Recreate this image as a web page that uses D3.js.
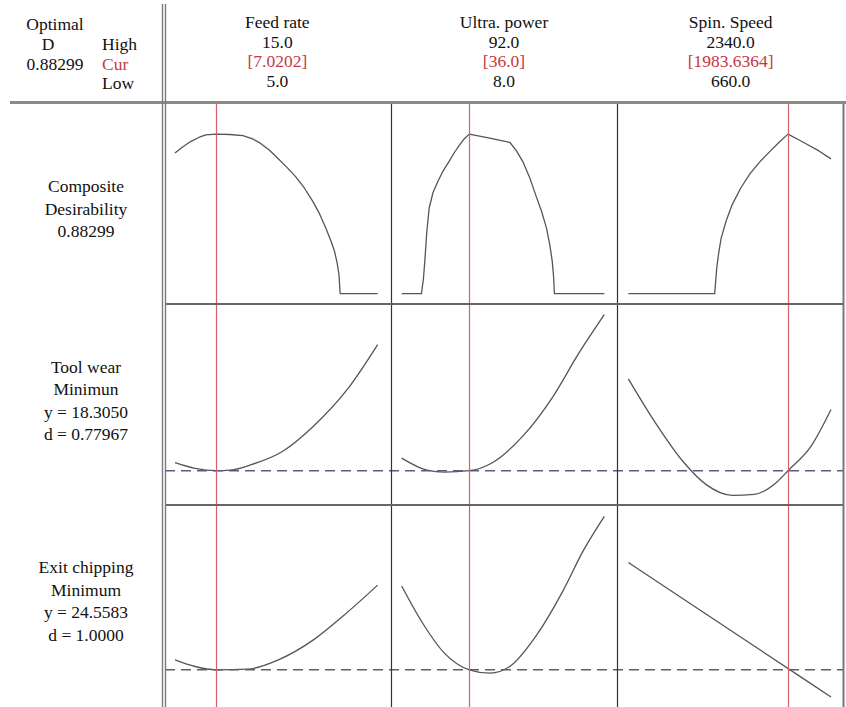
<!DOCTYPE html>
<html><head><meta charset="utf-8">
<script src="https://cdn.jsdelivr.net/npm/d3@7"></script>
<style>
html,body{margin:0;padding:0;background:#fff;}
svg{display:block;}
</style>
</head><body><div id="chart"></div>
<script>
// ---------- data ----------
const factorNames = ["Feed rate", "Ultra. power", "Spin. Speed"];
const factorHigh = [15.0, 92.0, 2340.0];
const factorLow = [5.0, 8.0, 660.0];
const factorCur = [7.0202, 36.0, 1983.6364];
const highLabels = ["15.0", "92.0", "2340.0"];
const lowLabels = ["5.0", "8.0", "660.0"];
const curLabels = ["[7.0202]", "[36.0]", "[1983.6364]"];
const optimalLabels = ["Optimal", "D", "0.88299"];
const levelLabels = ["High", "Cur", "Low"];
const responseLabels = [
  ["Composite", "Desirability", "0.88299"],
  ["Tool wear", "Minimun", "y = 18.3050", "d = 0.77967"],
  ["Exit chipping", "Minimum", "y = 24.5583", "d = 1.0000"]
];
const responseTargets = [null, 18.3050, 24.5583];

// composite desirability vs each factor
const desirFeed = [[5.0,0.778],[5.34,0.809],[5.77,0.842],[6.2,0.866],[6.52,0.879],[7.02,0.883],[7.7,0.881],[8.35,0.875],[8.8,0.858],[9.21,0.833],[9.65,0.795],[10.07,0.750],[10.5,0.702],[10.94,0.649],[11.38,0.585],[11.80,0.511],[12.14,0.44],[12.44,0.364],[12.7,0.29],[12.87,0.235],[13.0,0.17],[13.09,0.106],[13.15,0],[15.0,0]];
const desirPower = [[8,0],[16.2,0],[17.0,0.08],[17.6,0.180],[18.4,0.34],[19.4,0.474],[21.0,0.56],[23.0,0.621],[25.2,0.68],[27.6,0.731],[29.8,0.78],[32.0,0.824],[34.0,0.858],[36.0,0.883],[44.0,0.862],[52.8,0.838],[55.6,0.79],[58.2,0.731],[61.0,0.645],[63.5,0.548],[66.0,0.455],[68.0,0.364],[69.4,0.27],[70.4,0.180],[71.0,0.09],[71.3,0],[92,0]];
const desirSpeed = [[660,0],[1376,0],[1384,0.07],[1393,0.143],[1410,0.23],[1430,0.309],[1472,0.405],[1521,0.493],[1592,0.585],[1666,0.662],[1748,0.728],[1830,0.785],[1910,0.838],[1983.6,0.883],[2060,0.856],[2140,0.827],[2240,0.79],[2340,0.746]];

// tool wear vs each factor
const wearFeed = [[5.0,19.45],[5.99,18.63],[7.02,18.305],[7.72,18.39],[8.80,19.21],[10.32,21.1],[11.83,24.68],[13.56,30.16],[15.0,36.35]];
const wearPower = [[8,20.11],[18.5,18.39],[25.7,18.11],[36,18.305],[45.6,19.45],[58.2,23.25],[70.8,28.96],[81.5,35.16],[92,40.64]];
const wearSpeed = [[660,31.45],[867,25.63],[1122,19.45],[1303,16.35],[1522,14.78],[1703,14.92],[1885,16.59],[1983.6,18.305],[2175,21.82],[2340,27.06]];

// exit chipping vs each factor
const chipFeed = [[5.0,26.22],[5.99,25.11],[7.02,24.56],[8.58,24.67],[10.10,26.22],[11.83,29.56],[13.35,33.72],[15.0,38.72]];
const chipPower = [[8,38.56],[16.7,32.34],[25.7,27.34],[36,24.56],[44.6,24.0],[52.8,25.11],[63.5,30.11],[74.3,37.34],[83.4,44.56],[92,50.22]];
const chipSpeed = [[660,42.51],[1500,31.26],[2340,20.01]];

const curves = [
  [desirFeed, desirPower, desirSpeed],
  [wearFeed, wearPower, wearSpeed],
  [chipFeed, chipPower, chipSpeed]
];

// ---------- layout ----------
const W = 846, H = 707;
const FONT = "'Liberation Serif'";
const svg = d3.select("#chart").append("svg").attr("width", W).attr("height", H);
svg.append("rect").attr("width", W).attr("height", H).attr("fill", "#fff");

const colBand = d3.scaleBand().domain([0,1,2]).range([164, 844]);
const rowBand = d3.scaleBand().domain([0,1,2]).range([102, 707]);
const bw = colBand.bandwidth(), bh = rowBand.bandwidth();

const xScales = factorNames.map((_, i) =>
  d3.scaleLinear().domain([factorLow[i], factorHigh[i]]).range([colBand(i) + 11, colBand(i) + bw - 13]));

const yScales = curves.map((row, r) => {
  const dom = r === 0 ? [0, 1] : d3.extent(row.flat(), d => d[1]);
  return d3.scaleLinear().domain(dom).range([rowBand(r) + bh - 10, rowBand(r) + 11]);
});

const FS = 17.5;
const red = "#c9373f";

const txt = svg.append("g");
function addText(x, y, t, anchor, color) {
  return txt.append("text").attr("x", x).attr("y", y)
    .attr("text-anchor", anchor)
    .style("font-family", FONT).style("font-size", FS + "px")
    .attr("fill", color).text(t);
}

// ---------- header texts ----------
const hdrBase = [28, 47.5, 67, 86.5];
factorNames.forEach((name, i) => {
  const cx = colBand(i) + bw / 2;
  const lines = [name, highLabels[i], curLabels[i], lowLabels[i]];
  lines.forEach((t, k) => addText(cx, hdrBase[k], t, "middle", k === 2 ? red : "#111"));
});
const leftBase = [30, 50, 69.5, 89];
const optX = [55, 48, 55];
optimalLabels.forEach((t, k) => addText(optX[k], leftBase[k], t, "middle", "#111"));
levelLabels.forEach((t, k) => addText(102, leftBase[k + 1], t, "start", k === 1 ? red : "#111"));

// ---------- response labels ----------
const lineH = 22.5;
const rowShift = [6, -4, -5];
responseLabels.forEach((lines, r) => {
  const cy = rowBand(r) + bh / 2 + rowShift[r];
  const n = lines.length;
  lines.forEach((t, k) => addText(86, cy + (k - (n - 1) / 2) * lineH + 6, t, "middle", "#111"));
});

// ---------- curves ----------
const plot = svg.append("g");
curves.forEach((row, r) => {
  row.forEach((pts, c) => {
    const line = d3.line()
      .x(d => xScales[c](d[0]))
      .y(d => yScales[r](d[1]))
      .curve(r === 0 ? d3.curveLinear : d3.curveMonotoneX);
    plot.append("path").attr("d", line(pts)).attr("fill", "none")
      .attr("stroke", "#555").attr("stroke-width", 1.3).attr("stroke-linejoin", "round");
  });
});

// target dashed lines
responseTargets.forEach((t, r) => {
  if (t === null) return;
  const y = yScales[r](t);
  plot.append("line").attr("x1", 165).attr("x2", 844).attr("y1", y).attr("y2", y)
    .attr("stroke", "#5c5c7c").attr("stroke-width", 1.6).attr("stroke-dasharray", "10,6");
});

// current-setting red lines
factorCur.forEach((v, i) => {
  const x = Math.round(xScales[i](v)) + 0.5;
  plot.append("line").attr("x1", x).attr("x2", x).attr("y1", 104).attr("y2", H)
    .attr("stroke", "#d4606c").attr("stroke-width", 1.2);
});

// ---------- frame ----------
const fr = svg.append("g");
[1, 2].forEach(i => {
  const x = Math.round(colBand(i)) + 0.5;
  fr.append("line").attr("x1", x).attr("x2", x).attr("y1", 103).attr("y2", H)
    .attr("stroke", "#333").attr("stroke-width", 1.2);
});
[1, 2].forEach(r => {
  const y = Math.round(rowBand(r));
  fr.append("line").attr("x1", 165).attr("x2", 844).attr("y1", y).attr("y2", y)
    .attr("stroke", "#666").attr("stroke-width", 1.8);
});
fr.append("line").attr("x1", 843.5).attr("x2", 843.5).attr("y1", 102).attr("y2", H)
  .attr("stroke", "#777").attr("stroke-width", 2);
fr.append("line").attr("x1", 10).attr("x2", 846).attr("y1", 102.5).attr("y2", 102.5)
  .attr("stroke", "#8a8a8a").attr("stroke-width", 3);
[162.5, 165.5].forEach(x => {
  fr.append("line").attr("x1", x).attr("x2", x).attr("y1", 4).attr("y2", H)
    .attr("stroke", "#7a7a7a").attr("stroke-width", 1.4);
});
</script>
</body></html>
